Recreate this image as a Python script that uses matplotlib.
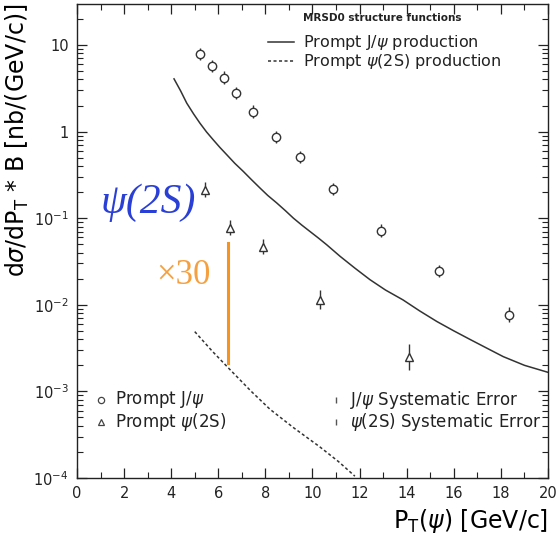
import numpy as np
import matplotlib
matplotlib.use("Agg")
import matplotlib.pyplot as plt
from matplotlib.ticker import MultipleLocator, LogLocator, NullFormatter

plt.rcParams['mathtext.fontset'] = 'dejavusans'

# --- data ---
# prompt J/psi points
jpsi_pt = [5.22, 5.73, 6.24, 6.75, 7.47, 8.45, 9.47, 10.87, 12.9, 15.37, 18.34]
jpsi_xs = [7.9, 5.7, 4.2, 2.8, 1.7, 0.87, 0.51, 0.218, 0.072, 0.0247, 0.0077]
jpsi_err = [0.18, 0.18, 0.18, 0.18, 0.18, 0.18, 0.18, 0.18, 0.18, 0.18, 0.22]

# prompt psi(2S) points
psi2s_pt = [5.44, 6.5, 7.9, 10.32, 14.1]
psi2s_xs = [0.213, 0.078, 0.047, 0.0115, 0.0025]
psi2s_err = [0.22, 0.22, 0.22, 0.30, 0.40]

# theory curves (MRSD0)
jpsi_th_pt = [4.12, 4.4, 4.66, 4.95, 5.22, 5.5, 5.79, 6.07, 6.36, 6.7, 7.06, 7.4, 7.77,
              8.1, 8.48, 8.85, 9.19, 9.55, 9.89, 10.25, 10.6, 11.17, 11.8, 12.44,
              13.1, 13.84, 14.55, 15.29, 16.0, 16.69, 17.4, 18.1, 19.0, 20.0]
jpsi_th_xs = [4.06, 2.95, 2.13, 1.6, 1.25, 0.99, 0.80, 0.655, 0.54, 0.43, 0.347, 0.28,
              0.223, 0.183, 0.150, 0.122, 0.100, 0.083, 0.0703, 0.059, 0.0494, 0.0363,
              0.0265, 0.0195, 0.0148, 0.0114, 0.0085, 0.00639, 0.0050, 0.00398,
              0.00316, 0.00252, 0.00200, 0.00166]

psi2s_th_pt = [5.0, 5.75, 6.5, 7.4, 8.2, 9.2, 10.3, 11.1, 11.8]
psi2s_th_xs = [0.0049, 0.0029, 0.00178, 0.00100, 0.00062, 0.00038, 0.00023, 0.000155, 0.000105]

# x30 scale bar
scale_pt = 6.4
scale_lo, scale_hi = 0.00215, 0.052

fig = plt.figure(figsize=(5.56, 5.36), dpi=100)
ax = fig.add_axes([0.1385, 0.1082, 0.8471, 0.8843])

ax.plot(jpsi_th_pt, jpsi_th_xs, color='#333333', lw=1.1)
ax.plot(psi2s_th_pt, psi2s_th_xs, color='#333333', lw=1.1, ls=(0, (2.0, 1.6)))

jp = np.array(jpsi_xs)
je = np.array(jpsi_err)
ax.errorbar(jpsi_pt, jp, yerr=[jp * (1 - 1 / (1 + je)), jp * je], fmt='o',
            ms=6, mfc='white', mec='#333333', mew=1.0, ecolor='#333333',
            elinewidth=1.0, capsize=0)

pp = np.array(psi2s_xs)
pe = np.array(psi2s_err)
ax.errorbar(psi2s_pt, pp, yerr=[pp * (1 - 1 / (1 + pe)), pp * pe], fmt='^',
            ms=6, mfc='white', mec='#333333', mew=1.0, ecolor='#333333',
            elinewidth=1.0, capsize=0)

ax.plot([scale_pt, scale_pt], [scale_lo, scale_hi], color='#f7941d', lw=2.2)

ax.set_yscale('log')
ax.set_xlim(0, 20)
ax.set_ylim(1e-4, 29.7)

ax.xaxis.set_major_locator(MultipleLocator(2))
ax.xaxis.set_minor_locator(MultipleLocator(1))
ax.yaxis.set_minor_locator(LogLocator(base=10, subs=np.arange(2, 10), numticks=20))
ax.yaxis.set_minor_formatter(NullFormatter())
ax.set_yticks([1e-4, 1e-3, 1e-2, 1e-1, 1, 10])
ax.set_yticklabels(['$10^{-4}$', '$10^{-3}$', '$10^{-2}$', '$10^{-1}$', '1', '10'])
ax.tick_params(which='both', direction='in', top=True, right=True,
               labelsize=10.5, colors='#222222')
ax.tick_params(which='major', length=7, width=0.9, pad=6)
ax.tick_params(which='minor', length=4, width=0.8)
for s in ax.spines.values():
    s.set_color('#222222')
    s.set_linewidth(1.0)

ax.set_ylabel(r'd$\sigma$/dP$_\mathregular{T}$ * B [nb/(GeV/c)]', fontsize=17,
              loc='top', labelpad=2)
ax.set_xlabel(r'P$_\mathregular{T}$($\psi$) [GeV/c]', fontsize=17,
              loc='right', labelpad=4)

# top-right legend (theory)
ax.text(9.6, 20.5, 'MRSD0 structure functions', fontsize=7.5, fontweight='bold',
        va='center', ha='left', color='#222222')
ax.plot([8.1, 9.2], [10.8, 10.8], color='#333333', lw=1.1)
ax.plot([8.1, 9.2], [6.5, 6.5], color='#333333', lw=1.1, ls=(0, (2.0, 1.6)))
ax.text(9.6, 10.8, r'Prompt J/$\psi$ production', fontsize=11.5, va='center', color='#222222')
ax.text(9.6, 6.5, r'Prompt $\psi$(2S) production', fontsize=11.5, va='center', color='#222222')

# bottom legend (data)
ax.plot([1.0], [8.0e-4], 'o', ms=4.5, mfc='white', mec='#444444', mew=0.9)
ax.plot([1.0], [4.4e-4], '^', ms=4.5, mfc='white', mec='#444444', mew=0.9)
ax.text(1.6, 8.0e-4, r'Prompt J/$\psi$', fontsize=12, va='center', color='#222222')
ax.text(1.6, 4.4e-4, r'Prompt $\psi$(2S)', fontsize=12, va='center', color='#222222')
ax.plot([11.0], [8.0e-4], '|', ms=4, mec='#555555', mew=1.0)
ax.plot([11.0], [4.4e-4], '|', ms=4, mec='#555555', mew=1.0)
ax.text(11.6, 8.0e-4, r'J/$\psi$ Systematic Error', fontsize=12, va='center', color='#222222')
ax.text(11.6, 4.4e-4, r'$\psi$(2S) Systematic Error', fontsize=12, va='center', color='#222222')

# annotations
ax.text(1.0, 0.15, '\u03c8(2S)', fontsize=30, color='#2a3fd6', va='center', ha='left',
        family='Liberation Serif', style='italic')
ax.text(4.5, 0.022, '\u00d730', fontsize=25, color='#f5a040', va='center', ha='center',
        family='Liberation Serif')

fig.savefig('out.png', dpi=100)
